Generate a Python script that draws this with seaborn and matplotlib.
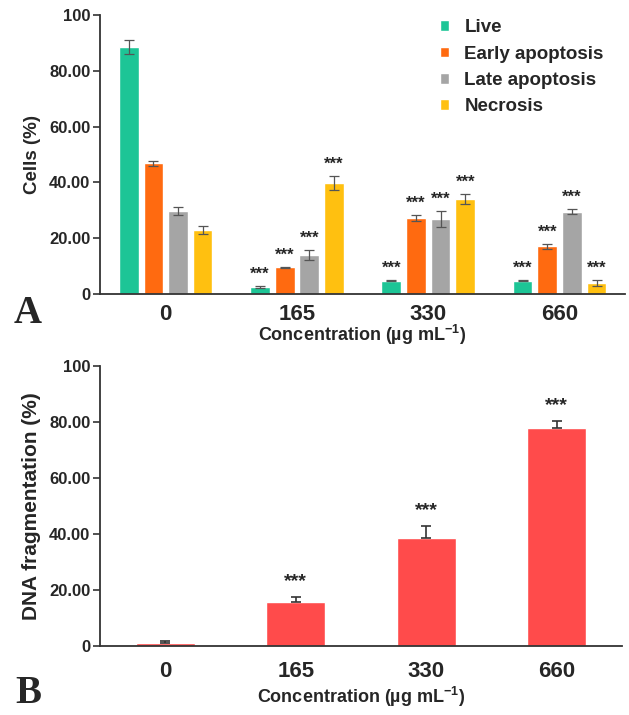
import numpy as np
import pandas as pd
import matplotlib
matplotlib.use("Agg")
import matplotlib.pyplot as plt
import seaborn as sns

# concentrations (ug/mL)
concentrations = ["0", "165", "330", "660"]
stages = ["Live", "Early apoptosis", "Late apoptosis", "Necrosis"]

# panel A - cells (%) per stage
live = [88.5, 2.4, 4.7, 4.7]
early = [46.8, 9.6, 27.1, 17.0]
late = [29.7, 13.8, 26.8, 29.5]
necrosis = [23.0, 39.9, 33.9, 3.9]
live_sd = [2.5, 0.3, 0.2, 0.2]
early_sd = [0.8, 0.2, 1.1, 0.8]
late_sd = [1.3, 1.8, 3.0, 0.9]
necrosis_sd = [1.4, 2.5, 1.8, 1.1]
# significance marks for panel A (per stage, per concentration)
sig_a = [["", "***", "***", "***"]] * 4

# panel B - DNA fragmentation (%)
dna = [1.1, 15.7, 38.7, 77.9]
dna_sd = [0.6, 1.7, 4.1, 2.4]
sig_b = ["", "***", "***", "***"]

colors = ["#1DC596", "#FF6A10", "#A5A5A5", "#FFC010"]
red = "#FF4B4B"

sns.set_style("ticks")
plt.rcParams["font.family"] = ["Liberation Sans", "DejaVu Sans"]
plt.rcParams["font.weight"] = "bold"
plt.rcParams["mathtext.fontset"] = "custom"
plt.rcParams["mathtext.rm"] = "Liberation Sans:bold"
plt.rcParams["mathtext.it"] = "Liberation Sans:bold"
plt.rcParams["mathtext.bf"] = "Liberation Sans:bold"

df_a = pd.DataFrame({
    "conc": concentrations * 4,
    "stage": np.repeat(stages, 4),
    "value": live + early + late + necrosis,
})
sds = [live_sd, early_sd, late_sd, necrosis_sd]

fig = plt.figure(figsize=(6.29, 7.15), dpi=100)
ax1 = fig.add_axes([0.159, 0.589, 0.835, 0.39])
ax2 = fig.add_axes([0.159, 0.0965, 0.830, 0.3915])

sns.barplot(data=df_a, x="conc", y="value", hue="stage", hue_order=stages,
            order=concentrations, palette=colors, width=0.75, gap=0.2,
            errorbar=None, saturation=1, ax=ax1)

bar_groups = list(ax1.containers)
for k, cont in enumerate(bar_groups):
    for j, bar in enumerate(cont):
        xc = bar.get_x() + bar.get_width() / 2
        h = bar.get_height()
        ax1.errorbar(xc, h, yerr=sds[k][j], color="#555555", capsize=3.5,
                     elinewidth=0.9, capthick=0.9)
        if sig_a[k][j]:
            ax1.annotate(sig_a[k][j], (xc, h + sds[k][j]), xytext=(0, 3),
                         textcoords="offset points", ha="center", va="bottom",
                         fontsize=12, fontweight="bold")

sns.barplot(x=concentrations, y=dna, order=concentrations, color=red,
            width=0.45, saturation=1, errorbar=None, ax=ax2)
bars_b = list(ax2.containers[0])
for j, bar in enumerate(bars_b):
    xc = bar.get_x() + bar.get_width() / 2
    h = bar.get_height()
    ax2.errorbar(xc, h, yerr=[[0], [dna_sd[j]]], color="#333333", capsize=3.5,
                 elinewidth=1.2, capthick=1.2)
    if sig_b[j]:
        ax2.annotate(sig_b[j], (xc, h + dna_sd[j]), xytext=(0, 5),
                     textcoords="offset points", ha="center", va="bottom",
                     fontsize=14, fontweight="bold")

ticks = [0, 20, 40, 60, 80, 100]
tick_labels = ["0", "20.00", "40.00", "60.00", "80.00", "100"]
xlabel = "Concentration (µg mL$^{-1}$)"
panels = [(ax1, "Cells (%)", 13.5, 7, -1), (ax2, "DNA fragmentation (%)", 15, 11, 2)]
for ax, ylab, ylsize, xpad, xlpad in panels:
    ax.set_ylim(0, 100)
    ax.set_xlim(-0.5, 3.5)
    ax.set_yticks(ticks)
    ax.set_yticklabels(tick_labels, fontsize=12, fontweight="bold")
    ax.set_xticks(range(4))
    ax.set_xticklabels(concentrations, fontsize=16, fontweight="bold")
    ax.tick_params(axis="x", length=0, pad=xpad)
    ax.tick_params(axis="y", length=5, width=1.2, color="#333333", pad=2)
    ax.set_ylabel(ylab, fontsize=ylsize, fontweight="bold", labelpad=6)
    ax.set_xlabel(xlabel, fontsize=13, fontweight="bold", labelpad=xlpad)
    sns.despine(ax=ax)
    for s in ["left", "bottom"]:
        ax.spines[s].set_linewidth(1.3)
        ax.spines[s].set_color("#333333")

leg = ax1.legend(loc="upper left", bbox_to_anchor=(0.615, 1.045), frameon=False,
                 fontsize=13.5, handlelength=0.5, handleheight=0.5,
                 handletextpad=0.8, labelspacing=0.5)
for t in leg.get_texts():
    t.set_fontweight("bold")

fig.text(0.022, 0.548, "A", fontsize=28, fontweight="bold",
         family=["Liberation Serif", "DejaVu Serif"])
fig.text(0.025, 0.017, "B", fontsize=28, fontweight="bold",
         family=["Liberation Serif", "DejaVu Serif"])

fig.savefig("out.png", dpi=100)
